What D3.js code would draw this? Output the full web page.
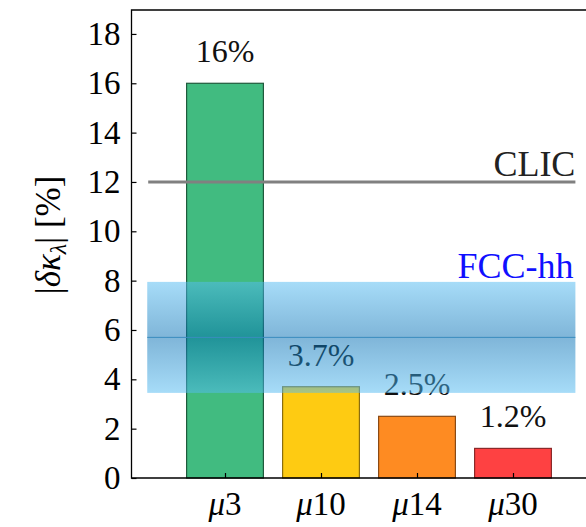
<!DOCTYPE html>
<html>
<head>
<meta charset="utf-8">
<script src="https://cdn.jsdelivr.net/npm/d3@7"></script>
<style>
  svg text, svg tspan { font-family: 'Liberation Serif', 'Times New Roman', serif !important; }
</style>
</head>
<body style="margin:0">
<svg id="chart" width="586" height="527" font-family="Liberation Serif"></svg>
<script>
var colliders = ["μ3", "μ10", "μ14", "μ30"];
var precision = [16, 3.7, 2.5, 1.2];
var barLabels = ["16%", "3.7%", "2.5%", "1.2%"];
var fills = ["#41bb80", "#fecb12", "#fe8b22", "#fe4142"];
var strokes = ["#1f5a3c", "#8a6d10", "#8a4a14", "#8a2a2a"];
var yTicks = [0, 2, 4, 6, 8, 10, 12, 14, 16, 18];

var clic = 12;
var fccLow = 3.45, fccMid = 5.7, fccHigh = 7.95;

var svg = d3.select("#chart");
var plotLeft = 131.5, plotTop = 10, plotBottom = 478, plotRight = 600;

var y = d3.scaleLinear().domain([0, 19]).range([plotBottom, plotBottom - 19 * 24.67]);
var x = d3.scalePoint().domain(colliders).range([225, 513]);
var xl = d3.scaleLinear().domain([0, 3]).range([225, 513]);
var bw = x.step() * 0.8;

// gradient for the FCC-hh band
var defs = svg.append("defs");
var grad = defs.append("linearGradient").attr("id", "fcc")
  .attr("x1", 0).attr("y1", 0).attr("x2", 0).attr("y2", 1);
grad.append("stop").attr("offset", "0%").attr("stop-color", "rgb(85,188,242)").attr("stop-opacity", 0.52);
grad.append("stop").attr("offset", "50%").attr("stop-color", "rgb(0,108,178)").attr("stop-opacity", 0.5);
grad.append("stop").attr("offset", "100%").attr("stop-color", "rgb(85,188,242)").attr("stop-opacity", 0.52);

// bars
svg.selectAll("rect.bar").data(precision).enter().append("rect")
  .attr("class", "bar")
  .attr("x", (d, i) => x(colliders[i]) - bw / 2)
  .attr("y", d => y(d))
  .attr("width", bw)
  .attr("height", d => y(0) - y(d))
  .attr("fill", (d, i) => fills[i])
  .attr("stroke", (d, i) => strokes[i])
  .attr("stroke-width", 1.2);

// bar value labels
svg.selectAll("text.val").data(precision).enter().append("text")
  .attr("class", "val")
  .attr("x", (d, i) => x(colliders[i]))
  .attr("y", d => y(d) - 21)
  .attr("text-anchor", "middle")
  .attr("font-size", 32)
  .attr("fill", "#111")
  .text((d, i) => barLabels[i]);

// CLIC line
svg.append("line")
  .attr("x1", xl(-0.8)).attr("x2", xl(3.65))
  .attr("y1", y(clic)).attr("y2", y(clic))
  .attr("stroke", "#808080").attr("stroke-width", 3);
svg.append("text")
  .attr("x", xl(3.65)).attr("y", y(clic) - 6)
  .attr("text-anchor", "end").attr("font-size", 36).attr("fill", "#222")
  .text("CLIC");

// FCC-hh band
svg.append("rect")
  .attr("x", xl(-0.81)).attr("width", xl(3.65) - xl(-0.81))
  .attr("y", y(fccHigh)).attr("height", y(fccLow) - y(fccHigh))
  .attr("fill", "url(#fcc)");
svg.append("line")
  .attr("x1", xl(-0.81)).attr("x2", xl(3.65))
  .attr("y1", y(fccMid)).attr("y2", y(fccMid))
  .attr("stroke", "#3a8dbf").attr("stroke-width", 1);
svg.append("text")
  .attr("x", xl(3.63)).attr("y", y(fccHigh) - 4)
  .attr("text-anchor", "end").attr("font-size", 36).attr("fill", "#1010ff")
  .text("FCC-hh");

// y axis
var yAxis = d3.axisLeft(y).tickValues(yTicks).tickSizeInner(-5).tickSizeOuter(0).tickPadding(11);
var gy = svg.append("g").attr("transform", "translate(" + plotLeft + ",0)").call(yAxis);
gy.attr("font-family", null);
gy.select(".domain").remove();
gy.selectAll("line").attr("stroke-width", 1.2);
gy.selectAll("text").attr("font-size", 33).attr("fill", "#000");

// x axis
var xAxis = d3.axisBottom(x).tickSizeInner(-5).tickSizeOuter(0).tickFormat("");
var gx = svg.append("g").attr("transform", "translate(0," + plotBottom + ")").call(xAxis);
gx.select(".domain").remove();
gx.selectAll("line").attr("stroke-width", 1.2);

// frame
svg.append("path")
  .attr("d", "M" + plotRight + "," + plotTop + "H" + plotLeft + "V" + plotBottom + "H" + plotRight)
  .attr("fill", "none").attr("stroke", "#000").attr("stroke-width", 1.3);

var xt = svg.selectAll("text.xlab").data(colliders).enter().append("text")
  .attr("class", "xlab")
  .attr("x", d => x(d))
  .attr("y", 515)
  .attr("text-anchor", "middle")
  .attr("font-size", 33);
xt.append("tspan").attr("font-style", "italic").text("μ");
xt.append("tspan").text(d => d.slice(1));

// y label
var yl = svg.append("text")
  .attr("transform", "translate(60," + 235 + ") rotate(-90)")
  .attr("text-anchor", "middle")
  .attr("font-size", 35);
yl.append("tspan").text("|");
yl.append("tspan").attr("font-style", "italic").text("δκ");
yl.append("tspan").attr("font-style", "italic").attr("font-size", 24).attr("dy", 6).text("λ");
yl.append("tspan").attr("dy", -6).text("| [%]");
</script>
</body>
</html>
